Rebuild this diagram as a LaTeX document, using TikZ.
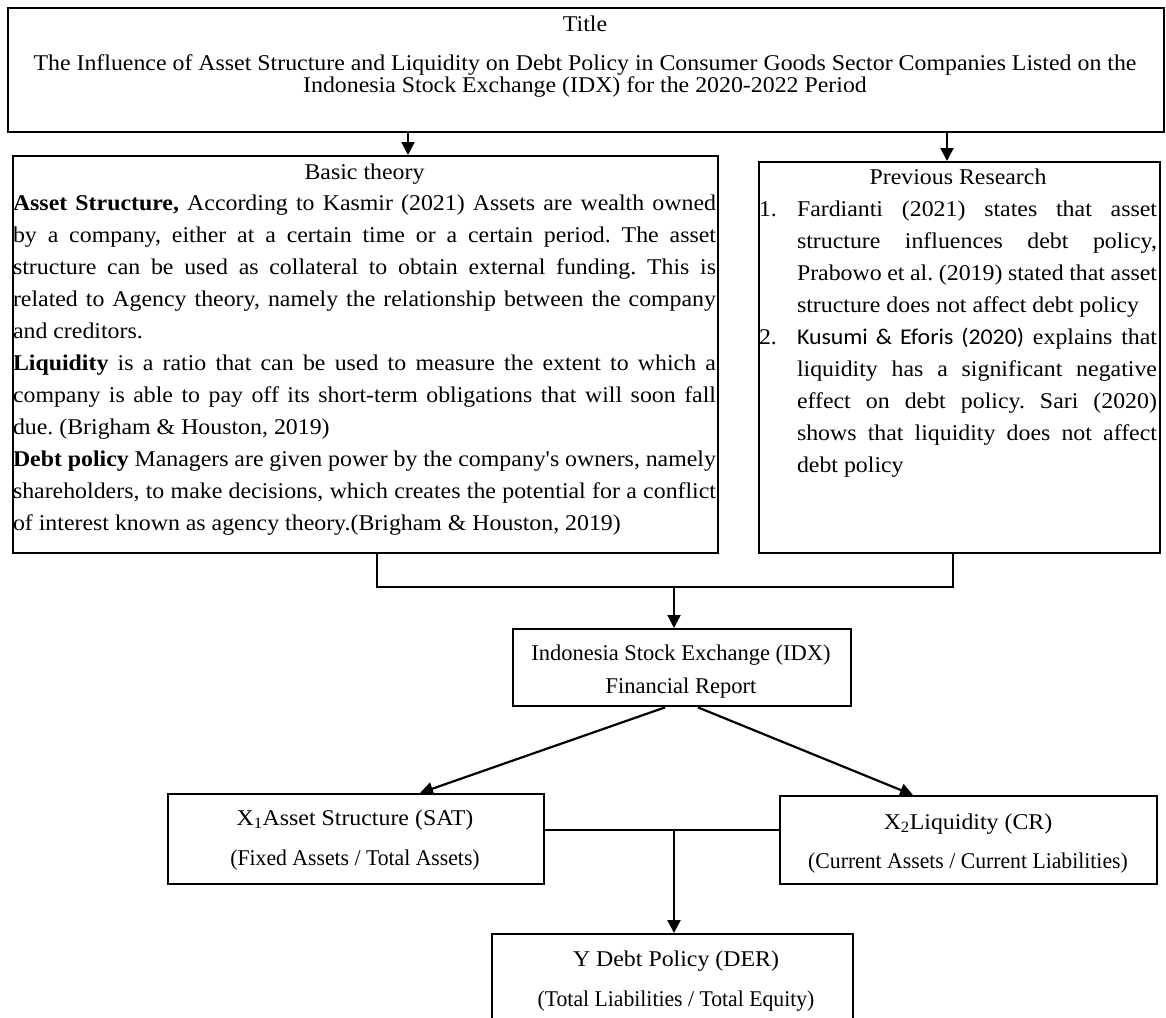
\documentclass[tikz,border=0pt]{standalone}
\usepackage{fontspec}
\setmainfont{Liberation Serif}[FakeStretch=1.06, Ligatures=TeXOff]
\newfontfamily\calfont{Carlito}[FakeStretch=1.06, Ligatures=TeXOff]
\newfontfamily\condfont{Liberation Serif}[FakeStretch=0.965, Ligatures=TeXOff]
\newfontfamily\idxfont{Liberation Serif}[FakeStretch=1.0, Ligatures=TeXOff]
\usetikzlibrary{arrows.meta}
\frenchspacing
\newcommand\bj[1]{\makebox[703pt][s]{#1}}
\newcommand\bl[1]{\makebox[703pt][l]{#1}}
\newcommand\pj[1]{\makebox[360pt][s]{#1}}
\newcommand\pl[1]{\makebox[360pt][l]{#1}}
\newcommand\pn[1]{\makebox[38pt][l]{#1}}
\tikzset{
  boxed/.style={draw, line width=2.4pt, minimum width=#1, anchor=north west, inner sep=0pt},
  conn/.style={line width=2.2pt},
  arr/.style={line width=2.2pt, -{Triangle[length=13pt,width=13pt]}},
  txt/.style={inner sep=0pt, outer sep=0pt},
}
\begin{document}
\begin{tikzpicture}[x=1pt, y=-1pt, font=\fontsize{22.5}{22}\selectfont]
\frenchspacing
\useasboundingbox (0,0) rectangle (1166,1017);
\clip (0,0) rectangle (1166,1017);
\fill[white] (0,0) rectangle (1166,1017);

% boxes
\node[boxed=1156pt, minimum height=124pt] (title) at (7,7) {};
\node[boxed=705pt, minimum height=397pt] (basic) at (12,155) {};
\node[boxed=401pt, minimum height=391pt] (prev) at (758,161) {};
\node[boxed=338pt, minimum height=77pt] (idx) at (512,628) {};
\node[boxed=376pt, minimum height=90pt] (xone) at (167,793) {};
\node[boxed=377pt, minimum height=88pt] (xtwo) at (779,795) {};
\node[boxed=361pt, minimum height=130pt] (ybox) at (491,933) {};

% title texts
\node[txt, anchor=base] (ttl) at (585,31) {Title};
\node[txt, anchor=base] (ttla) at (585,70) {The Influence of Asset Structure and Liquidity on Debt Policy in Consumer Goods Sector Companies Listed on the};
\node[txt, anchor=base] (ttlb) at (585,92) {Indonesia Stock Exchange (IDX) for the 2020-2022 Period};

% basic theory
\node[txt, anchor=base] (bth) at (364.5,179) {Basic theory};
\node[txt, anchor=base west] (btx) at (13,210) {\parbox[t]{703pt}{\fontsize{22.5}{32}\selectfont\frenchspacing
\bj{\textbf{Asset Structure,} According to Kasmir (2021) Assets are wealth owned}\\
\bj{by a company, either at a certain time or a certain period. The asset}\\
\bj{structure can be used as collateral to obtain external funding. This is}\\
\bj{related to Agency theory, namely the relationship between the company}\\
\bl{and creditors.}\\
\bj{\textbf{Liquidity} is a ratio that can be used to measure the extent to which a}\\
\bj{company is able to pay off its short-term obligations that will soon fall}\\
\bl{due. (Brigham \& Houston, 2019)}\\
\bj{\textbf{Debt policy} Managers are given power by the company's owners, namely}\\
\bj{shareholders, to make decisions, which creates the potential for a conflict}\\
\bl{of interest known as agency theory.(Brigham \& Houston, 2019)}}};

% previous research
\node[txt, anchor=base] (prh) at (958,184) {Previous Research};
\node[txt, anchor=base west] (prx) at (759,216) {\parbox[t]{398pt}{\fontsize{22.5}{32}\selectfont\frenchspacing
\pn{1.}\pj{Fardianti (2021) states that asset}\\
\pn{}\pj{structure influences debt policy,}\\
\pn{}\pj{Prabowo et al. (2019) stated that asset}\\
\pn{}\pl{structure does not affect debt policy}\\
\pn{2.}\pj{{\calfont Kusumi \& Eforis (2020)} explains that}\\
\pn{}\pj{liquidity has a significant negative}\\
\pn{}\pj{effect on debt policy. Sari (2020)}\\
\pn{}\pj{shows that liquidity does not affect}\\
\pn{}\pl{debt policy}}};

% IDX
\node[txt, anchor=base, font=\idxfont\fontsize{22.5}{22}\selectfont] (idxa) at (681,660) {Indonesia Stock Exchange (IDX)};
\node[txt, anchor=base, font=\idxfont\fontsize{22.5}{22}\selectfont] (idxb) at (681,693) {Financial Report};

% X1, X2, Y
\node[txt, anchor=base] (xonea) at (355,825) {X\textsubscript{1}Asset Structure (SAT)};
\node[txt, anchor=base, font=\condfont\fontsize{22.5}{22}\selectfont] (xoneb) at (355,865) {(Fixed Assets / Total Assets)};
\node[txt, anchor=base] (xtwoa) at (968,829) {X\textsubscript{2}Liquidity (CR)};
\node[txt, anchor=base, font=\condfont\fontsize{22.5}{22}\selectfont] (xtwob) at (968,868) {(Current Assets / Current Liabilities)};
\node[txt, anchor=base] (ya) at (676,966) {Y Debt Policy (DER)};
\node[txt, anchor=base, font=\condfont\fontsize{22.5}{22}\selectfont] (yb) at (676,1006) {(Total Liabilities / Total Equity)};

% connectors
\coordinate (ca) at (408,0);
\coordinate (cb) at (947,0);
\coordinate (cl) at (377,587);
\coordinate (cr) at (953,587);
\coordinate (cm) at (674,587);
\coordinate (sl) at (665,0);
\coordinate (sr) at (698,0);
\coordinate (tl) at (420,0);
\coordinate (tr) at (913,0);
\coordinate (hm) at (674,830);

\draw[arr] (title.south -| ca) -- (basic.north -| ca);
\draw[arr] (title.south -| cb) -- (prev.north -| cb);
\draw[conn] (basic.south -| cl) -- (cl) -- (cr) -- (prev.south -| cr);
\draw[arr] (cm) -- (idx.north -| cm);
\draw[arr] (idx.south -| sl) -- (xone.north -| tl);
\draw[arr] (idx.south -| sr) -- (xtwo.north -| tr);
\draw[conn] (xone.east |- hm) -- (xtwo.west |- hm);
\draw[arr] (hm) -- (ybox.north -| hm);
\end{tikzpicture}
\end{document}
